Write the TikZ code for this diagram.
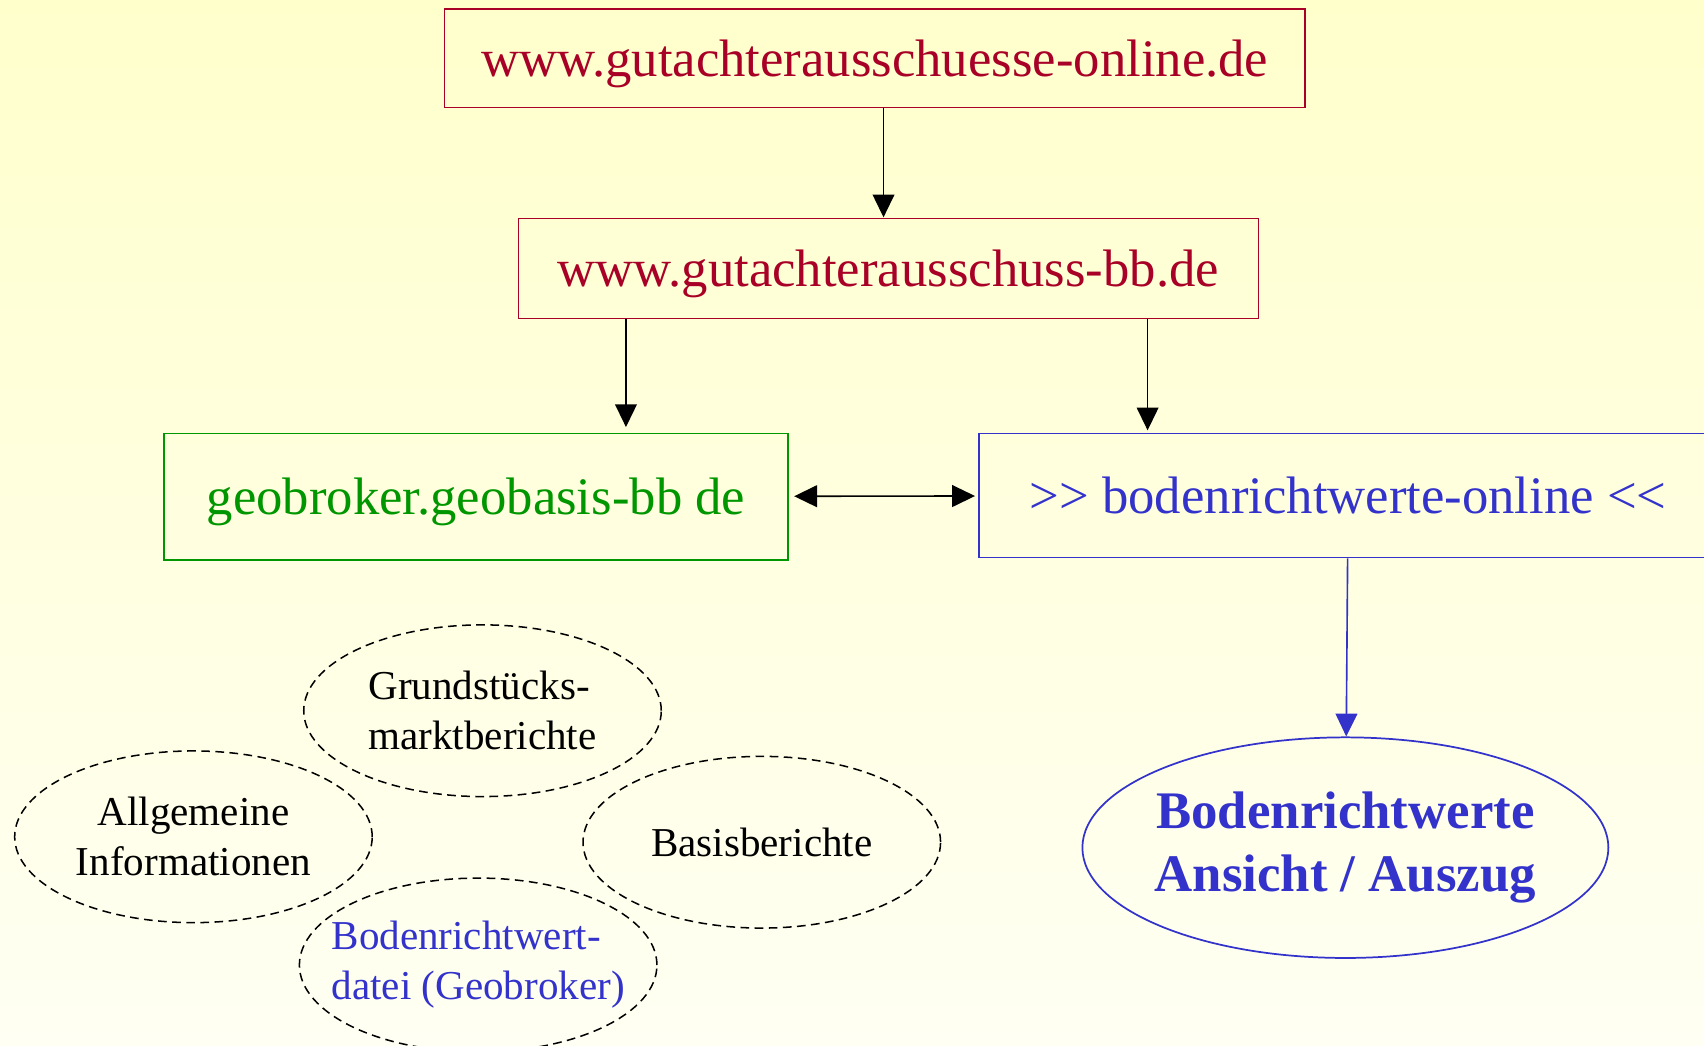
\documentclass[tikz,border=0pt]{standalone}
\usepackage{fontspec}
\setmainfont{Liberation Serif}
\usetikzlibrary{positioning}
\usetikzlibrary{arrows.meta,shapes.geometric}

\definecolor{gaRed}{RGB}{168,0,38}
\definecolor{gaGreen}{RGB}{0,150,0}
\definecolor{gaBlue}{RGB}{51,51,204}
\definecolor{bgTop}{RGB}{255,255,204}
\definecolor{bgBottom}{RGB}{255,255,243}

\tikzset{
urlbox/.style={draw, rectangle, inner sep=0pt, text depth=0pt, line width=0.8pt, font=\fontsize{24.25}{29}\selectfont},
infoellipse/.style={draw, ellipse, dashed, dash pattern=on 4pt off 2.5pt, inner sep=-40pt, line width=0.7pt,
  minimum width=164.5pt, minimum height=79pt, font=\fontsize{18.9}{23}\selectfont},
}

\begin{document}
\begin{tikzpicture}[x=0.5pt,y=-0.5pt, >={Triangle[length=10.5pt,width=10pt]}]
\shade[top color=bgTop, bottom color=bgBottom] (0,0) rectangle (1568,962);
\useasboundingbox (0,0) rectangle (1568,962);

\node[urlbox, gaRed, minimum width=396pt, minimum height=45.5pt](online) at (805,53.5){www.gutachterausschuesse-online.de};
\node[urlbox, gaRed, minimum width=340.5pt, minimum height=46pt](bb) at (817.5,247){www.gutachterausschuss-bb.de};
\node[urlbox, gaGreen, minimum width=287pt, minimum height=58pt](geo) at (438,457){geobroker.geobasis-bb de};
\node[urlbox, gaBlue, minimum width=339.5pt, minimum height=57pt](brw) at (1240.5,456){>{}> bodenrichtwerte-online <{}<};
\node[draw, ellipse, gaBlue, inner sep=-40pt, line width=0.8pt, minimum width=242pt, minimum height=101.5pt,
  align=center, font=\bfseries\fontsize{24.3}{29}\selectfont](ansicht) at (1238,780){Bodenrichtwerte\\Ansicht / Auszug};

\node[infoellipse, align=left](gmb) at (444,654){Grundstücks-\\marktberichte};
\node[infoellipse, align=center](allg) at (178,770){Allgemeine\\Informationen};
\node[infoellipse, align=center](basis) at (701,775){Basisberichte};
\node[infoellipse, align=left, text=gaBlue, minimum height=80pt](datei) at (440,888){Bodenrichtwert-\\datei (Geobroker)};

\coordinate (toBB) at (813,200);
\coordinate (toGeo) at (576,393);
\coordinate (toBrw) at (1056,396);

\path[->, line width=0.75pt]
(online.south -| toBB) edge (toBB)
(bb.south -| toGeo) edge (toGeo)
(bb.south -| toBrw) edge (toBrw)
(geo) edge[<->, shorten <=2.5pt, shorten >=1.5pt] (brw)
(brw) edge[gaBlue] (ansicht);
\end{tikzpicture}
\end{document}
